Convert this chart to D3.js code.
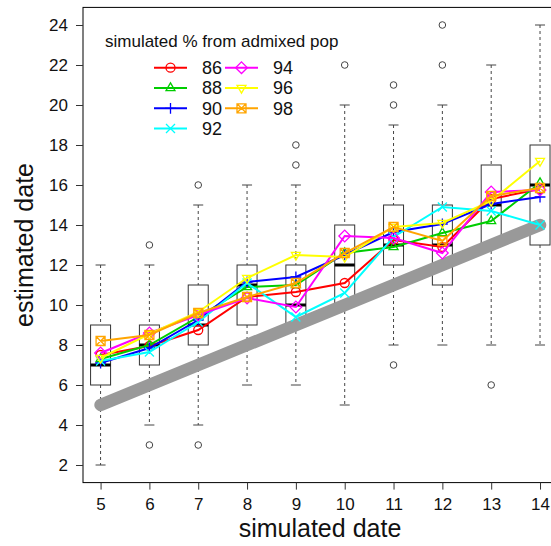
<!DOCTYPE html>
<html>
<head>
<meta charset="utf-8">
<script src="https://cdn.jsdelivr.net/npm/d3@7"></script>
<style>
  html, body { margin: 0; padding: 0; background: #fff; }
  svg { display: block; font-family: "Liberation Sans", Arial, Helvetica, sans-serif; }
</style>
</head>
<body>
<svg id="chart" width="551" height="546"></svg>
<script>
// Simulated admixture dates (generations)
const dates = [5, 6, 7, 8, 9, 10, 11, 12, 13, 14];

// Box-plot summaries of estimated dates per simulated date
const boxLow     = [2, 4, 4, 6, 6, 5, 8, 8, 8, 8];
const boxQ1      = [6, 7, 8, 9, 9, 10, 12, 11, 13, 13];
const boxMedian  = [7, 8, 9, 11, 10, 12, 13, 13, 15, 16];
const boxQ3      = [9, 9, 11, 12, 12, 14, 15, 15, 17, 18];
const boxHigh    = [12, 12, 15, 16, 16, 20, 19, 20, 22, 24];
const outliers   = [[], [13, 3], [16, 3], [], [17, 18], [22], [20, 21, 7], [22, 24], [6], []];

// Mean estimates for each simulated admixture percentage
const pctLabels = ["86", "88", "90", "92", "94", "96", "98"];
const pctColors = ["#FF0000", "#00CD00", "#0000FF", "#00FFFF", "#FF00FF", "#FFFF00", "#FFA500"];
const pctShapes = ["circle", "triUp", "plus", "cross", "diamond", "triDown", "squareX"];
const est86 = [7.5, 7.95, 8.75, 10.4, 10.65, 11.1, 13.25, 12.9, 15.3, 15.8];
const est88 = [7.3, 8.0, 9.4, 10.9, 11.0, 12.6, 12.9, 13.6, 14.2, 16.1];
const est90 = [7.1, 7.85, 9.25, 11.15, 11.4, 12.5, 13.65, 14.05, 15.05, 15.4];
const est92 = [7.2, 7.65, 9.15, 11.1, 9.4, 10.6, 13.4, 14.9, 14.7, 14.0];
const est94 = [7.6, 8.6, 9.5, 10.35, 9.9, 13.45, 13.35, 12.6, 15.65, 15.75];
const est96 = [7.35, 8.55, 9.65, 11.35, 12.5, 12.4, 13.9, 14.1, 15.2, 17.2];
const est98 = [8.2, 8.5, 9.6, 10.4, 11.1, 12.6, 13.9, 13.2, 15.45, 15.85];
const estimates = [est86, est88, est90, est92, est94, est96, est98];

const yTicks = [2, 4, 6, 8, 10, 12, 14, 16, 18, 20, 22, 24];

const svg = d3.select("#chart");
const x = d3.scaleLinear().domain([4.64, 14.36]).range([83, 557.6]);
const y = d3.scaleLinear().domain([1.12, 24.88]).range([482.6, 7.4]);

const boxHalf = 10;      // half box width in px
const capHalf = 5;

// symbol path for a marker of half-size s
function markerPath(shape, s) {
  switch (shape) {
    case "circle":
      return `M${s},0A${s},${s} 0 1,1 ${-s},0A${s},${s} 0 1,1 ${s},0Z`;
    case "triUp":
      return `M0,${-s * 1.15}L${s},${s * 0.6}L${-s},${s * 0.6}Z`;
    case "triDown":
      return `M0,${s * 1.15}L${s},${-s * 0.6}L${-s},${-s * 0.6}Z`;
    case "plus":
      return `M${-s * 1.2},0H${s * 1.2}M0,${-s * 1.2}V${s * 1.2}`;
    case "cross":
      return `M${-s},${-s}L${s},${s}M${-s},${s}L${s},${-s}`;
    case "diamond":
      return `M0,${-s * 1.3}L${s * 1.3},0L0,${s * 1.3}L${-s * 1.3},0Z`;
    case "squareX":
      return `M${-s},${-s}H${s}V${s}H${-s}ZM${-s},${-s}L${s},${s}M${-s},${s}L${s},${-s}`;
  }
}

// Box plots
const boxes = svg.append("g").attr("class", "boxes");
dates.forEach((d, i) => {
  const cx = x(d);
  const g = boxes.append("g");
  // whiskers
  g.append("line").attr("x1", cx).attr("x2", cx).attr("y1", y(boxHigh[i])).attr("y2", y(boxQ3[i]))
    .attr("stroke", "#444").attr("stroke-width", 1).attr("stroke-dasharray", "3,3");
  g.append("line").attr("x1", cx).attr("x2", cx).attr("y1", y(boxQ1[i])).attr("y2", y(boxLow[i]))
    .attr("stroke", "#444").attr("stroke-width", 1).attr("stroke-dasharray", "3,3");
  // caps
  [boxHigh[i], boxLow[i]].forEach(v => {
    g.append("line").attr("x1", cx - capHalf).attr("x2", cx + capHalf).attr("y1", y(v)).attr("y2", y(v))
      .attr("stroke", "#444").attr("stroke-width", 1);
  });
  // box
  g.append("rect").attr("x", cx - boxHalf).attr("width", boxHalf * 2)
    .attr("y", y(boxQ3[i])).attr("height", y(boxQ1[i]) - y(boxQ3[i]))
    .attr("fill", "none").attr("stroke", "#333").attr("stroke-width", 1);
  // median
  g.append("line").attr("x1", cx - boxHalf).attr("x2", cx + boxHalf)
    .attr("y1", y(boxMedian[i])).attr("y2", y(boxMedian[i]))
    .attr("stroke", "#000").attr("stroke-width", 3);
  // outliers
  outliers[i].forEach(v => {
    g.append("circle").attr("cx", cx).attr("cy", y(v)).attr("r", 3.3)
      .attr("fill", "none").attr("stroke", "#444").attr("stroke-width", 1);
  });
});

// Identity line: estimated = simulated
svg.append("line")
  .attr("x1", x(dates[0])).attr("y1", y(dates[0]))
  .attr("x2", x(dates[dates.length - 1])).attr("y2", y(dates[dates.length - 1]))
  .attr("stroke", "#999").attr("stroke-width", 12.5).attr("stroke-linecap", "round");

// Estimate series
const line = d3.line().x((v, i) => x(dates[i])).y(v => y(v));
estimates.forEach((vals, k) => {
  const g = svg.append("g");
  g.append("path").attr("d", line(vals)).attr("fill", "none")
    .attr("stroke", pctColors[k]).attr("stroke-width", 2);
  vals.forEach((v, i) => {
    g.append("path").attr("d", markerPath(pctShapes[k], 4.5))
      .attr("transform", `translate(${x(dates[i])},${y(v)})`)
      .attr("fill", "none").attr("stroke", pctColors[k]).attr("stroke-width", 1.3);
  });
});

// Frame
svg.append("rect").attr("x", 83).attr("y", 7.4).attr("width", 557.6 - 83).attr("height", 482.6 - 7.4)
  .attr("fill", "none").attr("stroke", "#000").attr("stroke-width", 1);

// Axes
const xAxis = svg.append("g").attr("transform", "translate(0,482.6)")
  .call(d3.axisBottom(x).tickValues(dates).tickSize(7).tickPadding(8).tickFormat(d3.format("d")));
const yAxis = svg.append("g").attr("transform", "translate(83,0)")
  .call(d3.axisLeft(y).tickValues(yTicks).tickSize(7).tickPadding(8).tickFormat(d3.format("d")));
[xAxis, yAxis].forEach(a => {
  a.select(".domain").remove();
  a.selectAll(".tick line").attr("stroke", "#333");
  a.selectAll(".tick text").attr("font-size", 17).attr("fill", "#111")
    .attr("font-family", "'Liberation Sans', Arial, sans-serif");
});

// Axis titles
svg.append("text").attr("x", 320).attr("y", 537).attr("text-anchor", "middle")
  .attr("font-size", 25).attr("fill", "#111").text("simulated date");
svg.append("text").attr("transform", "translate(33,245) rotate(-90)").attr("text-anchor", "middle")
  .attr("font-size", 25).attr("fill", "#111").text("estimated date");

// Legend
const legend = svg.append("g");
legend.append("text").attr("x", 105).attr("y", 47).attr("font-size", 17).attr("fill", "#111")
  .text("simulated % from admixed pop");
const colX = [154, 225];
const rowY = [67.7, 88, 108.3, 128.5];
pctLabels.forEach((lab, k) => {
  const c = k < 4 ? 0 : 1;
  const r = k < 4 ? k : k - 4;
  const lx = colX[c], ly = rowY[r];
  legend.append("line").attr("x1", lx).attr("x2", lx + 33).attr("y1", ly).attr("y2", ly)
    .attr("stroke", pctColors[k]).attr("stroke-width", 2);
  legend.append("path").attr("d", markerPath(pctShapes[k], 4.5))
    .attr("transform", `translate(${lx + 16.5},${ly})`)
    .attr("fill", "none").attr("stroke", pctColors[k]).attr("stroke-width", 1.3);
  legend.append("text").attr("x", lx + 48).attr("y", ly + 6.3).attr("font-size", 18)
    .attr("fill", "#111").text(lab);
});
</script>
</body>
</html>
